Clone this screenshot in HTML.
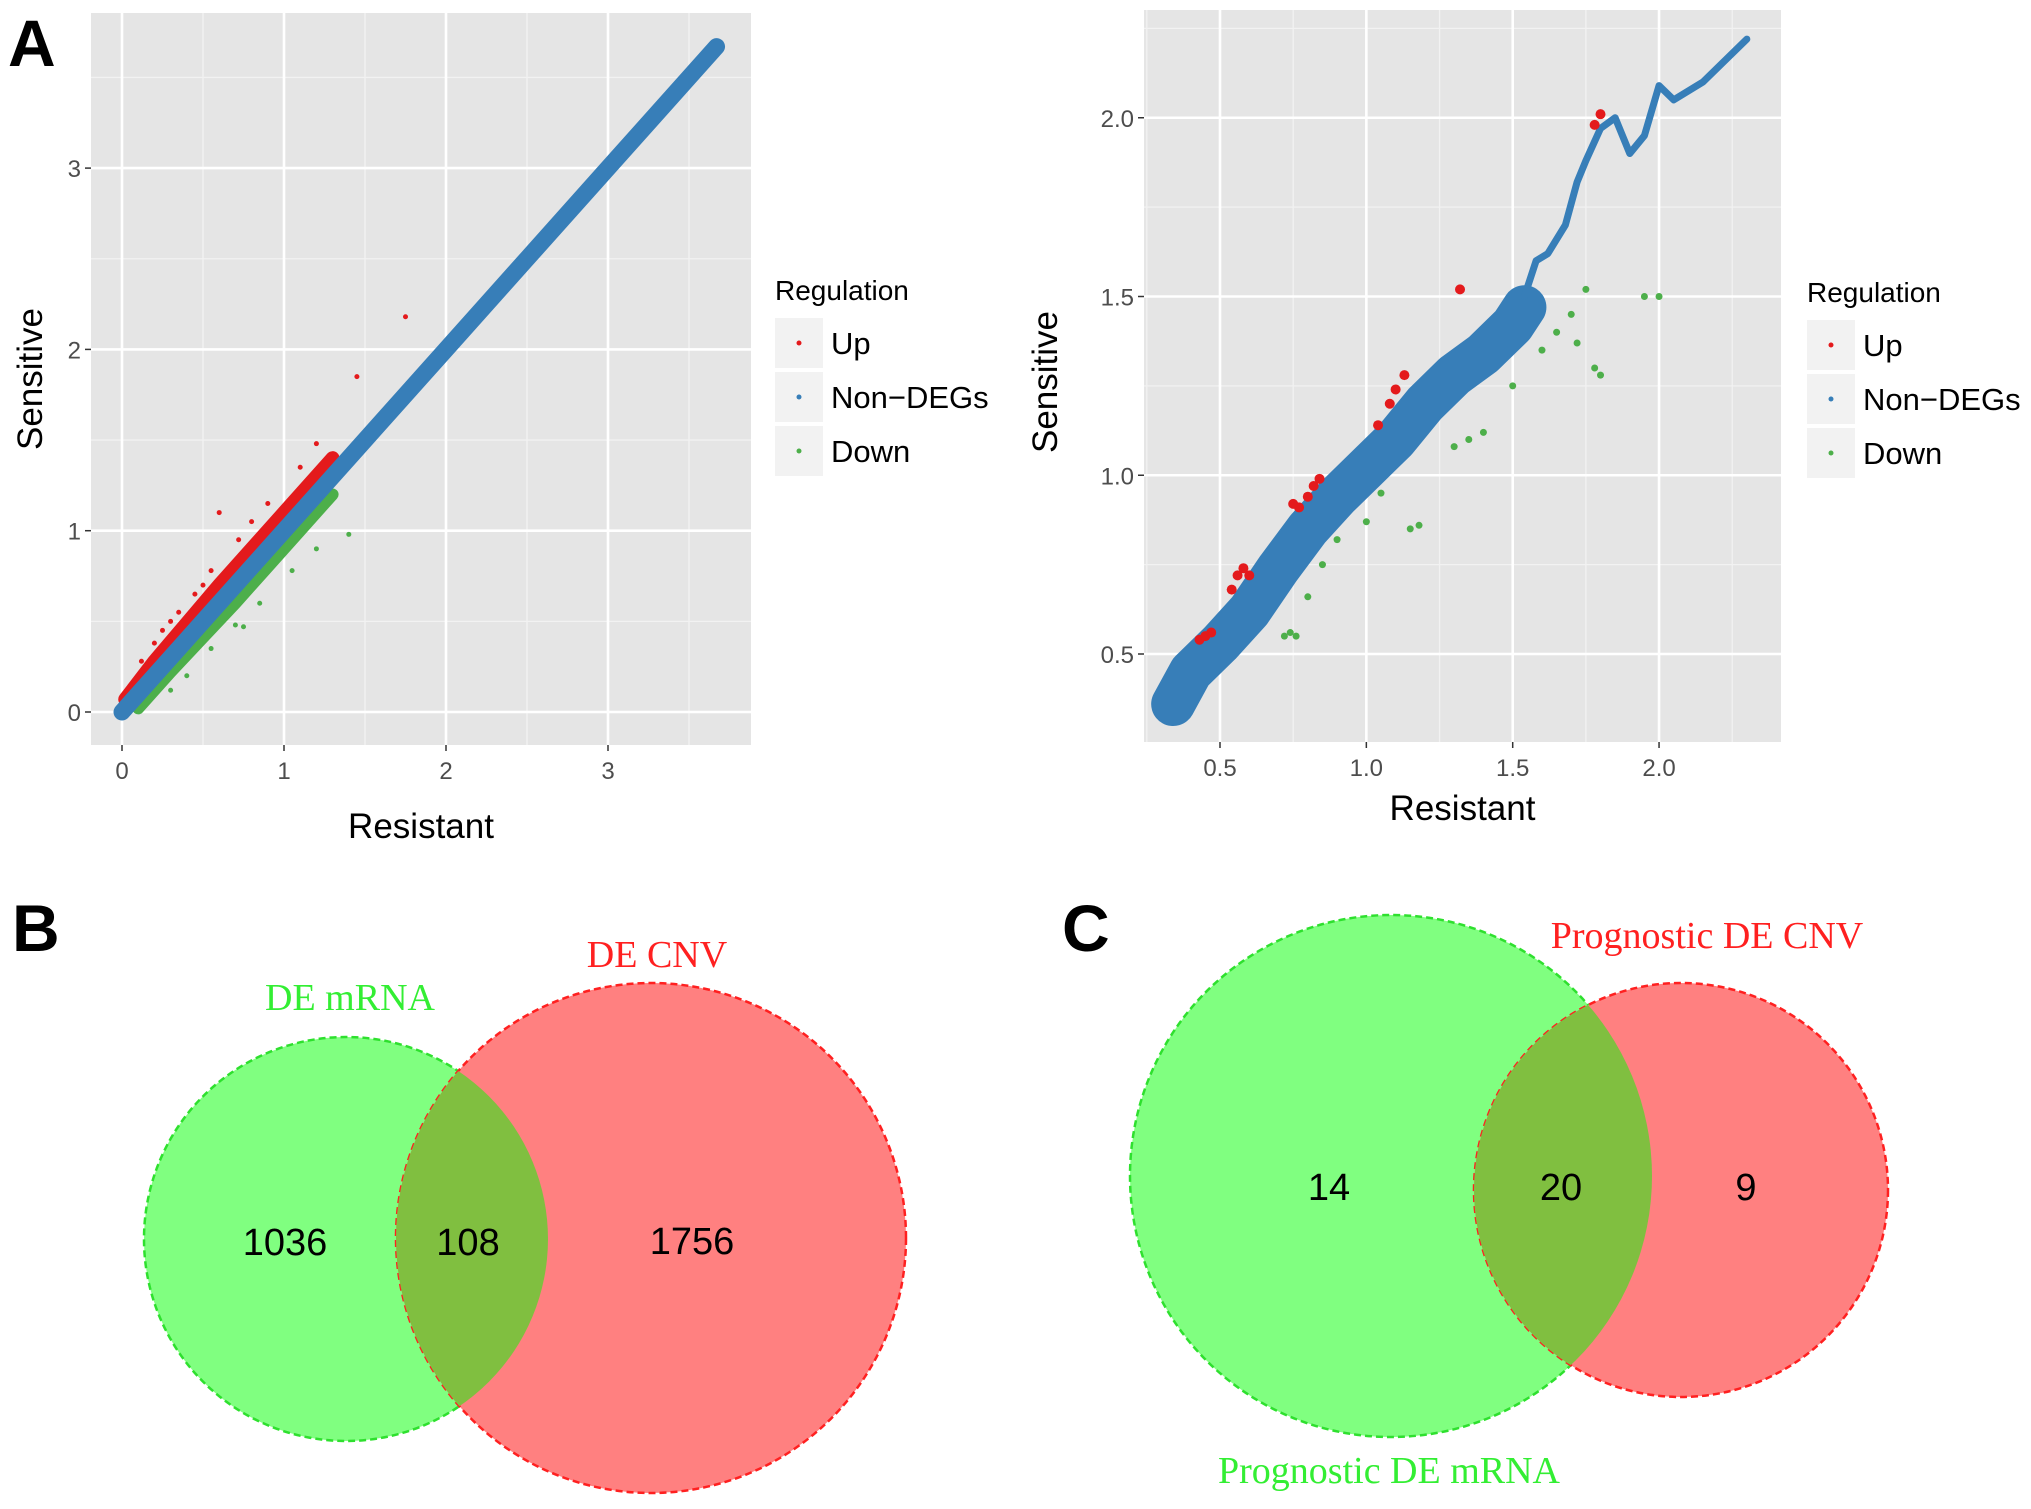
<!DOCTYPE html>
<html><head><meta charset="utf-8"><style>
html,body{margin:0;padding:0;background:#fff}
svg{display:block}
text{font-family:"Liberation Sans",sans-serif}
.tick{font-size:24px;fill:#4d4d4d}
.ttl{font-size:35px;fill:#000}
.ser{font-family:"Liberation Serif",serif;font-size:38px}
.num{font-size:38px;fill:#000}
</style></head><body>
<svg id="fig" width="2031" height="1509" viewBox="0 0 2031 1509" xmlns="http://www.w3.org/2000/svg">
<text x="8" y="66" font-size="66" font-weight="bold">A</text>
<g id="p1"></g>
<g id="p2"></g>

<text x="12" y="951" font-size="66" font-weight="bold">B</text>
<g>
<defs><clipPath id="cb"><circle cx="346" cy="1239" r="202"/></clipPath><clipPath id="cc"><circle cx="1391" cy="1176" r="261"/></clipPath></defs>
<circle cx="346" cy="1239" r="202" fill="#80ff80" stroke="#2ee02e" stroke-width="2.5" stroke-dasharray="7,4"/>
<circle cx="651" cy="1238" r="255" fill="#ff8080" stroke="#ff2020" stroke-width="2.5" stroke-dasharray="7,4"/>
<circle cx="651" cy="1238" r="255" fill="#80bf40" clip-path="url(#cb)"/>
<text class="ser" x="350" y="1010" text-anchor="middle" fill="#33ee33">DE mRNA</text>
<text class="ser" x="657" y="967" text-anchor="middle" fill="#ff2020">DE CNV</text>
<text class="num" x="285" y="1255" text-anchor="middle">1036</text>
<text class="num" x="468" y="1255" text-anchor="middle">108</text>
<text class="num" x="692" y="1254" text-anchor="middle">1756</text>
</g>

<text x="1062" y="951" font-size="66" font-weight="bold">C</text>
<g>
<circle cx="1391" cy="1176" r="261" fill="#80ff80" stroke="#2ee02e" stroke-width="2.5" stroke-dasharray="7,4"/>
<circle cx="1681" cy="1190" r="207" fill="#ff8080" stroke="#ff2020" stroke-width="2.5" stroke-dasharray="7,4"/>
<circle cx="1681" cy="1190" r="207" fill="#80bf40" clip-path="url(#cc)"/>
<text class="ser" x="1707" y="948" text-anchor="middle" fill="#ff2020">Prognostic DE CNV</text>
<text class="ser" x="1389" y="1483" text-anchor="middle" fill="#33ee33">Prognostic DE mRNA</text>
<text class="num" x="1329" y="1200" text-anchor="middle">14</text>
<text class="num" x="1561" y="1200" text-anchor="middle">20</text>
<text class="num" x="1746" y="1200" text-anchor="middle">9</text>
</g>
</svg>
<script>
// Left scatter data
const leftTicks = [0, 1, 2, 3];
const leftNonX = [0, 0.5, 1, 1.5, 2, 2.5, 3, 3.67];
const leftNonY = [0, 0.5, 1, 1.5, 2, 2.5, 3, 3.67];
const leftUpX = [0.02, 0.2, 0.4, 0.6, 0.8, 1.0, 1.2, 1.3];
const leftUpY = [0.07, 0.28, 0.49, 0.7, 0.9, 1.1, 1.3, 1.4];
const leftDownX = [0.1, 0.3, 0.5, 0.7, 0.9, 1.1, 1.3];
const leftDownY = [0.02, 0.22, 0.41, 0.6, 0.8, 1.0, 1.2];
const leftUpPtsX = [0.12, 0.2, 0.3, 0.35, 0.45, 0.5, 0.6, 0.72, 0.8, 0.9, 1.1, 1.2, 1.45, 1.75, 0.25, 0.55];
const leftUpPtsY = [0.28, 0.38, 0.5, 0.55, 0.65, 0.7, 1.1, 0.95, 1.05, 1.15, 1.35, 1.48, 1.85, 2.18, 0.45, 0.78];
const leftDownPtsX = [0.3, 0.4, 0.55, 0.7, 0.75, 0.85, 1.05, 1.2, 1.4];
const leftDownPtsY = [0.12, 0.2, 0.35, 0.48, 0.47, 0.6, 0.78, 0.9, 0.98];
// Right scatter data
const rightTicks = [0.5, 1.0, 1.5, 2.0];
const rightNonX = [0.34, 0.4, 0.5, 0.6, 0.7, 0.8, 0.9, 1.0, 1.1, 1.2, 1.3, 1.4, 1.5, 1.54];
const rightNonY = [0.36, 0.45, 0.53, 0.62, 0.74, 0.85, 0.94, 1.02, 1.1, 1.2, 1.28, 1.34, 1.42, 1.47];
const rightTailX = [1.54, 1.58, 1.62, 1.68, 1.72, 1.75, 1.8, 1.85, 1.9, 1.95, 2.0, 2.05, 2.15, 2.3];
const rightTailY = [1.5, 1.6, 1.62, 1.7, 1.82, 1.88, 1.97, 2.0, 1.9, 1.95, 2.09, 2.05, 2.1, 2.22];
const rightUpX = [0.43, 0.45, 0.47, 0.54, 0.56, 0.58, 0.6, 0.75, 0.77, 0.8, 0.82, 0.84, 1.04, 1.08, 1.1, 1.13, 1.32, 1.78, 1.8];
const rightUpY = [0.54, 0.55, 0.56, 0.68, 0.72, 0.74, 0.72, 0.92, 0.91, 0.94, 0.97, 0.99, 1.14, 1.2, 1.24, 1.28, 1.52, 1.98, 2.01];
const rightDownX = [0.72, 0.74, 0.76, 0.8, 0.85, 0.9, 1.0, 1.05, 1.15, 1.18, 1.3, 1.4, 1.5, 1.6, 1.65, 1.7, 1.75, 1.8, 1.95, 2.0, 1.35, 1.78, 1.72];
const rightDownY = [0.55, 0.56, 0.55, 0.66, 0.75, 0.82, 0.87, 0.95, 0.85, 0.86, 1.08, 1.12, 1.25, 1.35, 1.4, 1.45, 1.52, 1.28, 1.5, 1.5, 1.1, 1.3, 1.37];

const NS = 'http://www.w3.org/2000/svg';
function mk(parent, tag, attrs) {
  const e = document.createElementNS(NS, tag);
  for (const k in attrs) e.setAttribute(k, attrs[k]);
  parent.appendChild(e);
  return e;
}
function plot(g, cfg) {
  const sx = v => cfg.x0 + (v - cfg.xr) * cfg.xu;
  const sy = v => cfg.y0 - (v - cfg.yr) * cfg.yu;
  const bg = mk(g, 'rect', {x: cfg.L, y: cfg.T, width: cfg.R - cfg.L, height: cfg.B - cfg.T, fill: '#e5e5e5'});
  
  
  const step = cfg.ticks[1] - cfg.ticks[0];
  const minor = [];
  for (let i = -1; i < cfg.ticks.length; i++) minor.push(cfg.ticks[0] + (i + 0.5) * step);
  minor.forEach(v => {
    const X = sx(v), Y = sy(v);
    if (X > cfg.L && X < cfg.R) mk(g, 'line', {x1: X, x2: X, y1: cfg.T, y2: cfg.B, stroke: '#f2f2f2', 'stroke-width': 1.3});
    if (Y > cfg.T && Y < cfg.B) mk(g, 'line', {x1: cfg.L, x2: cfg.R, y1: Y, y2: Y, stroke: '#f2f2f2', 'stroke-width': 1.3});
  });
  cfg.ticks.forEach(v => {
    const X = sx(v), Y = sy(v);
    mk(g, 'line', {x1: X, x2: X, y1: cfg.T, y2: cfg.B, stroke: '#fff', 'stroke-width': 2.6});
    mk(g, 'line', {x1: cfg.L, x2: cfg.R, y1: Y, y2: Y, stroke: '#fff', 'stroke-width': 2.6});
    mk(g, 'line', {x1: X, x2: X, y1: cfg.B, y2: cfg.B + 6, stroke: '#333', 'stroke-width': 1.5});
    mk(g, 'line', {x1: cfg.L - 6, x2: cfg.L, y1: Y, y2: Y, stroke: '#333', 'stroke-width': 1.5});
    const tx = mk(g, 'text', {x: X, y: cfg.B + 34, 'text-anchor': 'middle', class: 'tick'});
    tx.textContent = cfg.fmt(v);
    
    
    const ty = mk(g, 'text', {x: cfg.L - 10, y: Y + 9, 'text-anchor': 'end', class: 'tick'});
    ty.textContent = cfg.fmt(v);
    
    
  });
  const band = (xs, ys, col, w, name) => {
    const p = mk(g, 'polyline', {points: xs.map((x, i) => sx(x) + ',' + sy(ys[i])).join(' '), fill: 'none', stroke: col, 'stroke-width': w, 'stroke-linecap': 'round', 'stroke-linejoin': 'round'});
    
    
  };
  const pts = (xs, ys, col, r, name) => xs.forEach((x, i) => {
    const c = mk(g, 'circle', {cx: sx(x), cy: sy(ys[i]), r: r, fill: col});
    
    
  });
  cfg.draw(band, pts);
  const xt = mk(g, 'text', {x: (cfg.L + cfg.R) / 2, y: cfg.xtY, 'text-anchor': 'middle', class: 'ttl'});
  xt.textContent = 'Resistant';
  
  
  const yt = mk(g, 'text', {x: 0, y: 0, 'text-anchor': 'middle', class: 'ttl', transform: 'translate(' + cfg.ytX + ',' + cfg.ytY + ') rotate(-90)'});
  yt.textContent = 'Sensitive';
  
  
  const lx = cfg.lx, ly = cfg.ly;
  const lt = mk(g, 'text', {x: lx, y: ly, 'font-size': 28});
  lt.textContent = 'Regulation';
  
  
  [['Up', '#e41a1c'], ['Non\u2212DEGs', '#377eb8'], ['Down', '#4daf4a']].forEach((d, i) => {
    const y = ly + 18 + i * 54;
    const k = mk(g, 'rect', {x: lx, y: y, width: 48, height: 50, fill: '#f2f2f2'});
    
    
    mk(g, 'circle', {cx: lx + 24, cy: y + 25, r: 2.5, fill: d[1]});
    const t = mk(g, 'text', {x: lx + 56, y: y + 36, 'font-size': 31});
    t.textContent = d[0];
    
    
  });
}
plot(document.getElementById('p1'), {
  L: 91, R: 751, T: 13, B: 745, x0: 122, xr: 0, xu: 162, y0: 712, yr: 0, yu: 181.3,
  ticks: leftTicks, fmt: v => String(v), xtY: 838, ytX: 42, ytY: 379, lx: 775, ly: 300,
  draw: (band, pts) => {
    band(leftDownX, leftDownY, '#4daf4a', 12, 'down-series');
    band(leftUpX, leftUpY, '#e41a1c', 14, 'up-series');
    pts(leftUpPtsX, leftUpPtsY, '#e41a1c', 2.5, 'up-point');
    pts(leftDownPtsX, leftDownPtsY, '#4daf4a', 2.5, 'down-point');
    band(leftNonX, leftNonY, '#377eb8', 17, 'non-degs-series');
  }
});
plot(document.getElementById('p2'), {
  L: 1144, R: 1781, T: 10, B: 742, x0: 1220, xr: 0.5, xu: 292.7, y0: 654, yr: 0.5, yu: 357.5,
  ticks: rightTicks, fmt: v => v.toFixed(1), xtY: 820, ytX: 1057, ytY: 382, lx: 1807, ly: 302,
  draw: (band, pts) => {
    pts(rightDownX, rightDownY, '#4daf4a', 3.5, 'down-point');
    band(rightNonX, rightNonY, '#377eb8', 44, 'non-degs-series');
    band(rightTailX, rightTailY, '#377eb8', 7, 'non-degs-tail');
    pts(rightUpX, rightUpY, '#e41a1c', 5, 'up-point');
  }
});
</script>
</body></html>
